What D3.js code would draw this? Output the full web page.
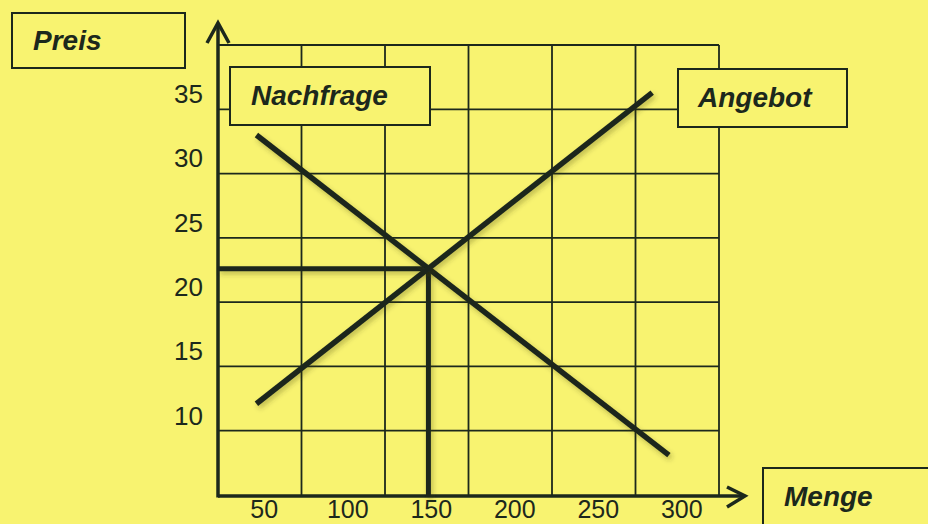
<!DOCTYPE html>
<html>
<head>
<meta charset="utf-8">
<script src="https://cdn.jsdelivr.net/npm/d3@7"></script>
<style>
  html, body { margin: 0; padding: 0; background: #f8f370; }
  svg { display: block; }
</style>
</head>
<body>
<svg id="chart" width="928" height="524"></svg>
<script>
// ---- data ----
const xTickValues = [50, 100, 150, 200, 250, 300];
const yTickValues = [10, 15, 20, 25, 30, 35];
const xGridValues = [75, 125, 175, 225, 275, 325];
const yGridValues = [10, 15, 20, 25, 30, 35, 40];
const nachfrage = [[48, 33.0], [295, 8.1]];   // demand (Menge, Preis)
const angebot   = [[48, 12.1], [285, 36.3]];  // supply (Menge, Preis)
const gleichgewicht = [151, 22.6];            // equilibrium
const axisTitles = ["Preis", "Menge"];
const seriesLabels = ["Nachfrage", "Angebot"];

const W = 928, H = 524;
const bg = "#f8f370";
const ink = "#1c281c";
const svg = d3.select("#chart");

const x = d3.scaleLinear().domain([25, 325]).range([218, 719]);
const y = d3.scaleLinear().domain([5, 40]).range([495, 45]);

const defs = svg.append("defs");
const f = defs.append("filter").attr("id", "shadow").attr("x", "-20%").attr("y", "-20%").attr("width", "140%").attr("height", "140%");
f.append("feDropShadow").attr("dx", 2).attr("dy", 3).attr("stdDeviation", 2.5)
  .attr("flood-color", "#3a3a10").attr("flood-opacity", 0.3);

svg.append("rect").attr("width", W).attr("height", H).attr("fill", bg);

// grid
const grid = svg.append("g").attr("stroke", ink).attr("stroke-width", 1.8);
grid.selectAll("line.v").data(xGridValues).join("line").attr("class", "v")
  .attr("x1", d => x(d)).attr("x2", d => x(d)).attr("y1", y(5)).attr("y2", y(40));
grid.selectAll("line.h").data(yGridValues).join("line").attr("class", "h")
  .attr("x1", x(25)).attr("x2", x(325)).attr("y1", d => y(d)).attr("y2", d => y(d));

// axes with tick labels
const fontTicks = "'Liberation Sans', Arial, sans-serif";
const yAxis = svg.append("g").attr("transform", `translate(${x(25)},0)`)
  .call(d3.axisLeft(y).tickValues(yTickValues).tickSize(0).tickPadding(15));
yAxis.select(".domain").remove();
yAxis.selectAll("text").attr("y", -15).attr("fill", ink)
  .style("font-family", fontTicks).style("font-size", "26px");

const xAxis = svg.append("g").attr("transform", `translate(0,${y(5)})`)
  .call(d3.axisBottom(x).tickValues(xTickValues).tickSize(0).tickPadding(5));
xAxis.select(".domain").remove();
xAxis.selectAll("text").attr("dx", 4).attr("fill", ink)
  .style("font-family", fontTicks).style("font-size", "25px");

// axis lines with arrows
const ax = svg.append("g").attr("stroke", ink).attr("fill", "none")
  .attr("stroke-width", 3.5).attr("stroke-linejoin", "miter");
ax.append("line").attr("x1", x(25)).attr("x2", 744).attr("y1", y(5) + 1).attr("y2", y(5) + 1);
ax.append("path").attr("d", `M727,487L745,${y(5) + 1}L727,507`);
ax.append("line").attr("x1", x(25)).attr("x2", x(25)).attr("y1", y(5) + 2.5).attr("y2", 24);
ax.append("path").attr("d", `M207,43L${x(25)},23L229,43`);

// equilibrium guide lines
const eq = svg.append("g").attr("stroke", ink).attr("stroke-width", 5).attr("filter", "url(#shadow)");
eq.append("line").attr("x1", x(25)).attr("x2", x(gleichgewicht[0]))
  .attr("y1", y(gleichgewicht[1])).attr("y2", y(gleichgewicht[1]));
eq.append("line").attr("x1", x(gleichgewicht[0])).attr("x2", x(gleichgewicht[0]))
  .attr("y1", y(gleichgewicht[1])).attr("y2", y(5) + 2);

// demand & supply lines
const line = d3.line().x(d => x(d[0])).y(d => y(d[1]));
svg.append("path").datum(nachfrage).attr("d", line).attr("fill", "none")
  .attr("stroke", ink).attr("stroke-width", 5.5).attr("filter", "url(#shadow)");
svg.append("path").datum(angebot).attr("d", line).attr("fill", "none")
  .attr("stroke", ink).attr("stroke-width", 5.5).attr("filter", "url(#shadow)");

// label boxes
const boxes = [
  { t: axisTitles[0], x0: 12, y0: 13, x1: 185, y1: 68, tx: 33, ty: 50 },
  { t: seriesLabels[0], x0: 230, y0: 67, x1: 430, y1: 125, tx: 251, ty: 105 },
  { t: seriesLabels[1], x0: 678, y0: 69, x1: 847, y1: 127, tx: 698, ty: 107 },
  { t: axisTitles[1], x0: 763, y0: 468, x1: 940, y1: 540, tx: 784, ty: 506 }
];
const bg2 = svg.append("g");
boxes.forEach(b => {
  bg2.append("rect").attr("x", b.x0).attr("y", b.y0).attr("width", b.x1 - b.x0).attr("height", b.y1 - b.y0)
    .attr("fill", bg).attr("stroke", ink).attr("stroke-width", 2);
  bg2.append("text").attr("x", b.tx).attr("y", b.ty).text(b.t)
    .attr("fill", ink).style("font-family", "'Liberation Sans', Arial, sans-serif")
    .style("font-size", "28px").style("font-weight", "bold").style("font-style", "italic");
});
</script>
</body>
</html>
